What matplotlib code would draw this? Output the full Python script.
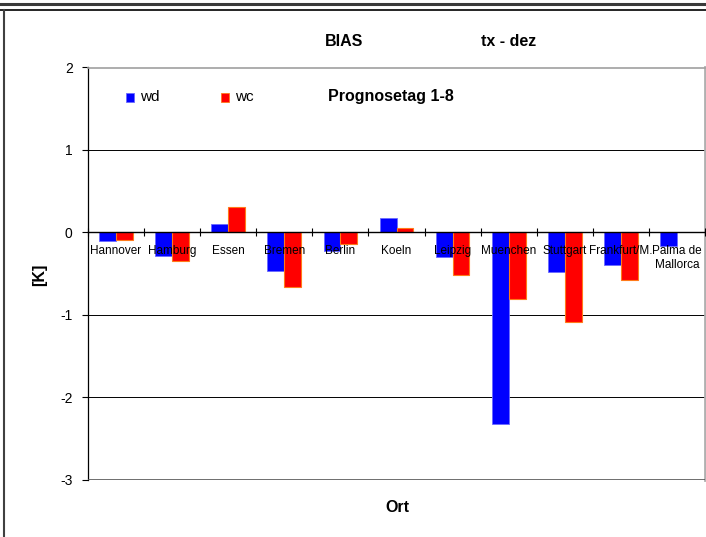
import matplotlib
matplotlib.use("Agg")
import matplotlib.pyplot as plt
from matplotlib.lines import Line2D
from matplotlib.patches import Rectangle
import numpy as np

plt.rcParams["font.family"] = ["Liberation Sans", "DejaVu Sans"]

# ── Data ───────────────────────────────────────────────────────────────────
orte = ["Hannover", "Hamburg", "Essen", "Bremen", "Berlin", "Koeln",
        "Leipzig", "Muenchen", "Stuttgart", "Frankfurt/M.", "Palma de\nMallorca"]
wd = [-0.10, -0.28, 0.10, -0.47, -0.22, 0.18, -0.30, -2.32, -0.48, -0.40, -0.16]
wc = [-0.09, -0.35, 0.31, -0.66, -0.14, 0.06, -0.51, -0.81, -1.09, -0.58, np.nan]
y_ticks = [2, 1, 0, -1, -2, -3]

W, H = 706, 537
fig = plt.figure(figsize=(W / 100, H / 100), dpi=100)
fig.patch.set_facecolor("white")

# outer frames
fig.add_artist(Line2D([0, 1], [1 - 4 / H, 1 - 4 / H], color="#3a3a3a", lw=2.2))
fig.add_artist(Line2D([0, 1], [1 - 9.5 / H, 1 - 9.5 / H], color="black", lw=1.2))
fig.add_artist(Line2D([4 / W, 4 / W], [0, 1 - 9.5 / H], color="#404040", lw=1.5))

ax = fig.add_axes([88 / W, 1 - 480 / H, (705 - 88) / W, (480 - 67.5) / H])
x = np.arange(len(orte))
bw = 0.3
ax.bar(x - bw / 2, wd, bw, color="#0000ff", edgecolor="#6a6aff", lw=0.6, zorder=2)
ax.bar(x + bw / 2, wc, bw, color="#ff0000", edgecolor="#ff7a1a", lw=0.8, zorder=2)

ax.set_xlim(-0.5, len(orte) - 0.5)
ax.set_ylim(-3, 2)
ax.set_yticks(y_ticks)
ax.set_yticklabels([str(v) for v in y_ticks], fontsize=10)
ax.tick_params(axis="y", direction="out", length=4, width=0.8, pad=7)
# gridlines below the bars, axis (labels) above
for yv in y_ticks[1:-1]:
    ax.axhline(yv, color="black", lw=0.7, zorder=0.5)
ax.axhline(-3, color="#555555", lw=1.2, zorder=3)

# x axis on the zero line
ax.spines["bottom"].set_position(("data", 0))
ax.spines["bottom"].set_color("black")
ax.spines["bottom"].set_linewidth(1.0)
ax.spines["bottom"].set_zorder(3)
ax.set_xticks(x)
ax.set_xticklabels(orte, fontsize=8.5, linespacing=1.25)
ax.set_xticks(np.arange(-0.5, len(orte)), minor=True)
ax.tick_params(axis="x", which="major", length=0, pad=9)
ax.tick_params(axis="x", which="minor", direction="inout", length=6, width=0.8)
ax.xaxis.set_zorder(3)

ax.spines["left"].set_color("black")
ax.spines["left"].set_linewidth(0.9)
ax.spines["top"].set_color("#a0a0a0")
ax.spines["top"].set_linewidth(1.2)
ax.spines["right"].set_color("#b0b0b0")
ax.spines["right"].set_linewidth(2.0)

# ── Texts ───────────────────────────────────────────────────────────────────
fig.text(344 / W, 1 - 42 / H, "BIAS", ha="center", va="center",
         fontsize=11.5, fontweight="bold")
fig.text(509 / W, 1 - 42 / H, "tx - dez", ha="center", va="center",
         fontsize=11.5, fontweight="bold")
fig.text(328 / W, 1 - 97 / H, "Prognosetag 1-8", ha="left", va="center",
         fontsize=11.5, fontweight="bold")
fig.text(397 / W, 1 - 508 / H, "Ort", ha="center", va="center",
         fontsize=11.5, fontweight="bold")
fig.text(40 / W, 1 - 275 / H, "[K]", ha="center", va="center",
         fontsize=11.5, fontweight="bold", rotation=90)

# legend
for px, col, ec, lab in [(126, "#0000ff", "#6a6aff", "wd"),
                         (221, "#ff0000", "#ff7a1a", "wc")]:
    fig.add_artist(Rectangle((px / W, 1 - 102 / H), 8 / W, 9 / H,
                             transform=fig.transFigure, facecolor=col,
                             edgecolor=ec, lw=0.6))
    fig.text((px + 14) / W, 1 - 97 / H, lab, ha="left", va="center",
             fontsize=11)

fig.savefig("out.png", dpi=100, facecolor="white")
